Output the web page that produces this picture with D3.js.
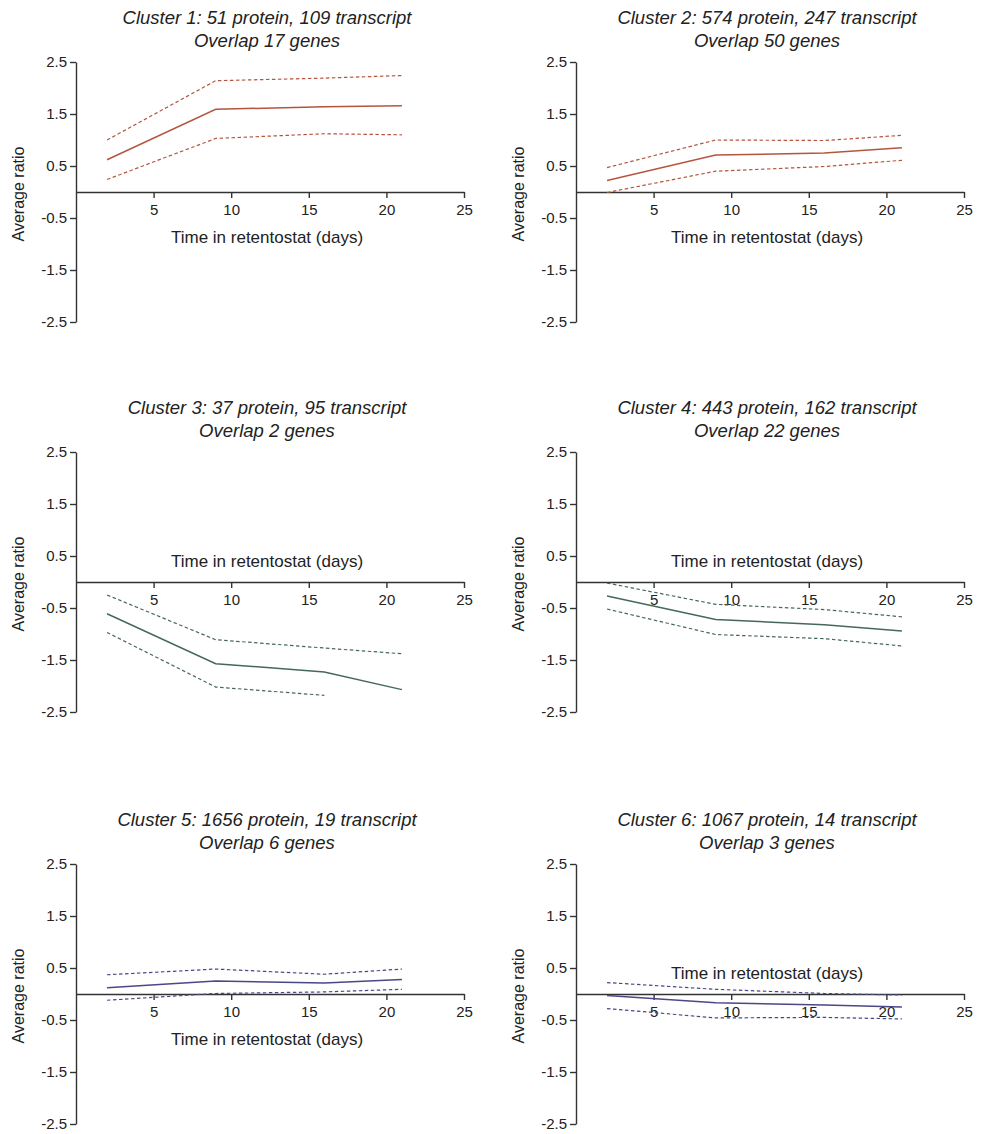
<!DOCTYPE html>
<html>
<head>
<meta charset="utf-8">
<script src="https://cdn.jsdelivr.net/npm/d3@7"></script>
<style>
  body { margin: 0; background: #fff; }
  text { font-family: "Liberation Sans", Arial, sans-serif; fill: #222; }
</style>
</head>
<body>
<div id="chart"></div>
<script>
const W = 981, H = 1134;

// time points (days in retentostat)
const days = [2, 9, 16, 21];

const titleLine1 = [
  "Cluster 1: 51 protein, 109 transcript",
  "Cluster 2: 574 protein, 247 transcript",
  "Cluster 3: 37 protein, 95 transcript",
  "Cluster 4: 443 protein, 162 transcript",
  "Cluster 5: 1656 protein, 19 transcript",
  "Cluster 6: 1067 protein, 14 transcript"
];
const titleLine2 = [
  "Overlap 17 genes", "Overlap 50 genes", "Overlap 2 genes",
  "Overlap 22 genes", "Overlap 6 genes", "Overlap 3 genes"
];

// average ratio per cluster
const meanVals = [
  [0.62, 1.59, 1.64, 1.66],
  [0.22, 0.71, 0.75, 0.85],
  [-0.61, -1.57, -1.73, -2.07],
  [-0.27, -0.72, -0.82, -0.94],
  [0.12, 0.25, 0.21, 0.28],
  [-0.03, -0.17, -0.21, -0.25]
];
// upper / lower dashed bands
const upperVals = [
  [1.0, 2.14, 2.19, 2.24],
  [0.47, 1.0, 0.99, 1.09],
  [-0.25, -1.11, -1.27, -1.38],
  [-0.02, -0.43, -0.53, -0.67],
  [0.37, 0.48, 0.38, 0.48],
  [0.22, 0.09, 0.01, -0.02]
];
const lowerVals = [
  [0.24, 1.03, 1.12, 1.10],
  [-0.01, 0.40, 0.49, 0.61],
  [-0.97, -2.02, -2.18, null],
  [-0.52, -1.01, -1.09, -1.23],
  [-0.12, 0.01, 0.04, 0.09],
  [-0.28, -0.46, -0.45, -0.48]
];

const clusterColors = ["#b4553f", "#b4553f", "#46685a", "#46685a", "#4a4886", "#4a4886"];
const xLabelAbove = [false, false, true, true, false, true];

const yTicks = [2.5, 1.5, 0.5, -0.5, -1.5, -2.5];
const xTicks = [5, 10, 15, 20, 25];

const colLeft = [76, 576], plotW = 388;
const rowTop = [62, 452, 864], plotH = 260;

const svg = d3.select("#chart").append("svg")
    .attr("width", W)
    .attr("height", H);

meanVals.forEach(function(vals, i) {
  var left = colLeft[i % 2], top = rowTop[Math.floor(i / 2)];
  var color = clusterColors[i];

  var x = d3.scaleLinear().domain([0, 25]).range([left, left + plotW]);
  var y = d3.scaleLinear().domain([-2.5, 2.5]).range([top + plotH, top]);

  var g = svg.append("g");

  // y axis
  var yAx = g.append("g")
      .attr("transform", "translate(" + left + ",0)")
      .call(d3.axisLeft(y).tickValues(yTicks).tickFormat(d3.format(".1f"))
        .tickSize(6).tickSizeOuter(0).tickPadding(3));
  // x axis across the zero line
  var xAx = g.append("g")
      .attr("transform", "translate(0," + y(0) + ")")
      .call(d3.axisBottom(x).tickValues(xTicks).tickSize(6).tickSizeOuter(0).tickPadding(6));

  [yAx, xAx].forEach(function(a) {
    a.selectAll("path, line").attr("stroke", "#333").attr("stroke-width", 1.4);
    a.selectAll("text").style("font-size", "15px").attr("fill", "#222")
      .style("font-family", "'Liberation Sans', Arial, sans-serif");
  });
  yAx.selectAll("text").text(function(d) { return d3.format(".1f")(d).replace("−", "-"); });

  var line = d3.line()
      .defined(function(d) { return d[1] != null; })
      .x(function(d) { return x(d[0]); })
      .y(function(d) { return y(d[1]); });

  function pts(arr) { return days.map(function(d, k) { return [d, arr[k]]; }); }

  g.append("path").datum(pts(upperVals[i]))
      .attr("d", line).attr("fill", "none")
      .attr("stroke", color).attr("stroke-width", 1.2).attr("stroke-dasharray", "3.5,2.5");
  g.append("path").datum(pts(lowerVals[i]))
      .attr("d", line).attr("fill", "none")
      .attr("stroke", color).attr("stroke-width", 1.2).attr("stroke-dasharray", "3.5,2.5");
  g.append("path").datum(pts(vals))
      .attr("d", line).attr("fill", "none")
      .attr("stroke", color).attr("stroke-width", 1.5);

  // titles
  var cx = left + plotW / 2 - 3;
  g.append("text").attr("x", cx).attr("y", top - 44).attr("dy", "0.35em")
      .attr("text-anchor", "middle").style("font-size", "18.5px").style("font-style", "italic")
      .text(titleLine1[i]);
  g.append("text").attr("x", cx).attr("y", top - 21).attr("dy", "0.35em")
      .attr("text-anchor", "middle").style("font-size", "18.5px").style("font-style", "italic")
      .text(titleLine2[i]);

  // axis labels
  g.append("text")
      .attr("transform", "translate(" + (left - 58) + "," + (top + plotH / 2 + 2) + ")rotate(-90)")
      .attr("text-anchor", "middle").attr("dy", "0.35em").style("font-size", "16px")
      .text("Average ratio");
  g.append("text")
      .attr("x", cx).attr("y", y(0) + (xLabelAbove[i] ? -21 : 45)).attr("dy", "0.35em")
      .attr("text-anchor", "middle").style("font-size", "17px")
      .text("Time in retentostat (days)");
});
</script>
</body>
</html>
